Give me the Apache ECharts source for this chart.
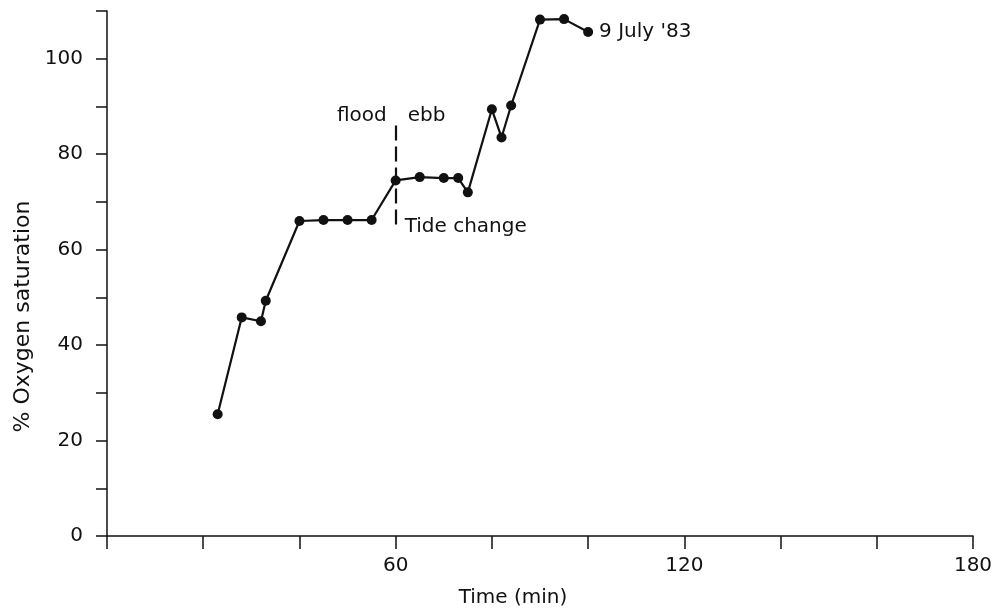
<!DOCTYPE html>
<html>
<head>
<meta charset="utf-8">
<script src="https://cdn.jsdelivr.net/npm/echarts@6/dist/echarts.min.js"></script>
<style>
  html, body { margin: 0; padding: 0; background: #fff; }
  #chart { width: 1003px; height: 613px; }
</style>
</head>
<body>
<div id="chart"></div>
<script>
// Sampling times (min) and measured oxygen saturation (%)
const times = [23, 28, 32, 33, 40, 45, 50, 55, 60, 65, 70, 73, 75, 80, 82, 84, 90, 95, 100];
const saturation = [25.5, 45.8, 45, 49.3, 66, 66.2, 66.2, 66.2, 74.5, 75.2, 75, 75, 72, 89.4, 83.5, 90.2, 108.2, 108.3, 105.6];

// Tide change marker (time, low and high ends of the dashed line)
const tideTime = 60;
const tideSpan = [64, 86];
const dateLabel = "9 July '83";

const ink = '#111';
const font = 'DejaVu Sans';

const points = times.map((t, i) => [t, saturation[i]]);

const chart = echarts.init(document.getElementById('chart'), null, { renderer: 'canvas' });

chart.setOption({
  backgroundColor: '#fff',
  animation: false,
  grid: { left: 107, right: 30, top: 11, bottom: 77, containLabel: false },
  xAxis: {
    type: 'value',
    min: 0, max: 180, interval: 20,
    name: 'Time (min)',
    nameLocation: 'middle',
    nameGap: 52,
    nameTextStyle: { color: ink, fontFamily: font, fontSize: 20, padding: [0, 54, 0, 0] },
    axisLine: { onZero: false, lineStyle: { color: ink, width: 1.5 } },
    axisTick: { length: 13, lineStyle: { color: ink, width: 1.5 } },
    axisLabel: {
      color: ink, fontFamily: font, fontSize: 20, margin: 20,
      formatter: v => (v > 0 && v % 60 === 0) ? String(v) : ''
    },
    splitLine: { show: false }
  },
  yAxis: {
    type: 'value',
    min: 0, max: 110, interval: 10,
    name: '% Oxygen saturation',
    nameLocation: 'middle',
    nameGap: 66,
    nameTextStyle: { color: ink, fontFamily: font, fontSize: 22, padding: [0, 86, 0, 0] },
    axisLine: { show: true, lineStyle: { color: ink, width: 1.5 } },
    axisTick: { length: 11, lineStyle: { color: ink, width: 1.5 } },
    axisLabel: {
      color: ink, fontFamily: font, fontSize: 20, margin: 24,
      formatter: v => (v % 20 === 0 && v <= 100) ? String(v) : ''
    },
    splitLine: { show: false }
  },
  series: [{
    type: 'line',
    data: points,
    symbol: 'circle',
    symbolSize: 10,
    lineStyle: { color: ink, width: 2.2 },
    itemStyle: { color: ink },
    label: {
      show: true,
      position: 'right',
      distance: 6,
      color: ink, fontFamily: font, fontSize: 20,
      formatter: p => p.dataIndex === times.length - 1 ? dateLabel : ''
    },
    markLine: {
      silent: true,
      symbol: ['none', 'none'],
      label: { show: false },
      lineStyle: { color: ink, width: 2.2, type: [15, 6] },
      data: [[{ coord: [tideTime, tideSpan[1]] }, { coord: [tideTime, tideSpan[0]] }]]
    },
    markPoint: {
      silent: true,
      symbol: 'circle',
      symbolSize: 0,
      label: { color: ink, fontFamily: font, fontSize: 20 },
      data: [
        { coord: [tideTime, 88], label: { position: 'left', distance: 9, formatter: 'flood' } },
        { coord: [tideTime, 88], label: { position: 'right', distance: 12, formatter: 'ebb' } },
        { coord: [tideTime, 64.7], label: { position: 'right', distance: 9, formatter: 'Tide change' } }
      ]
    }
  }]
});
</script>
</body>
</html>
